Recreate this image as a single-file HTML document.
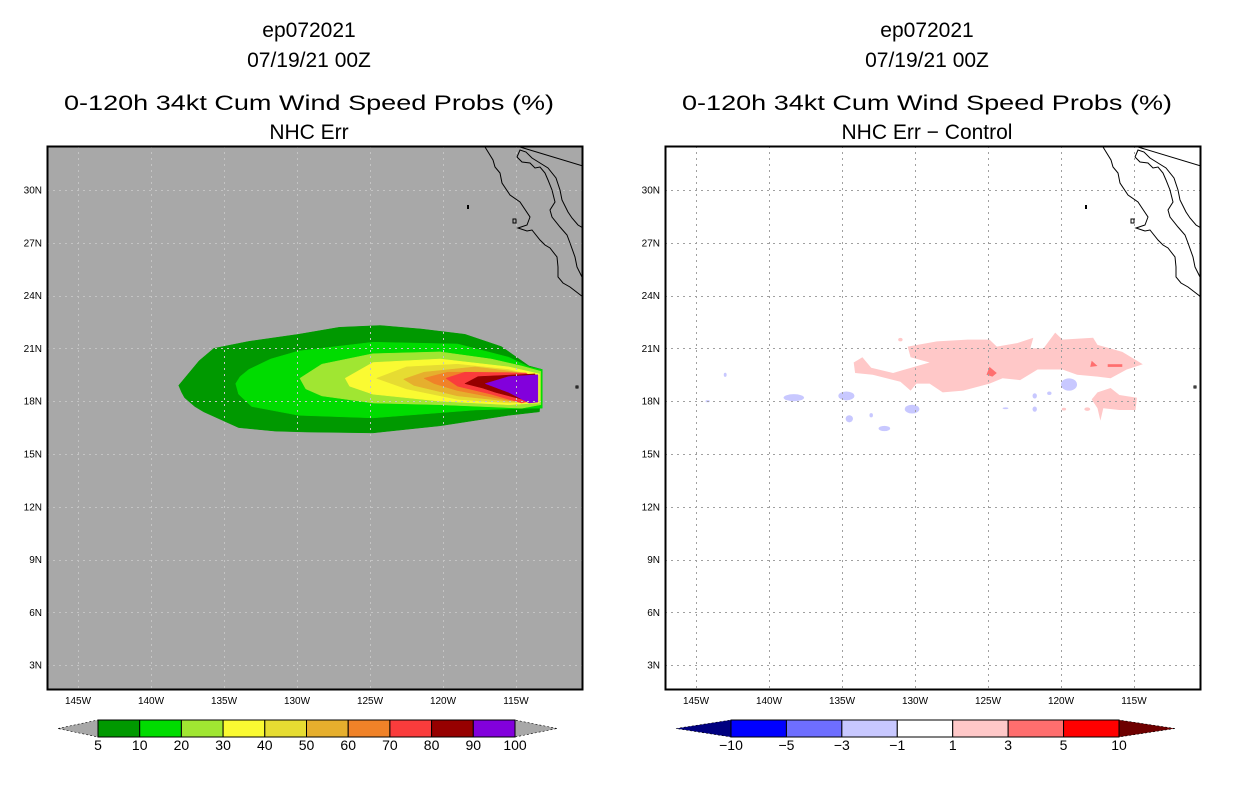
<!DOCTYPE html>
<html><head><meta charset="utf-8"><style>
html,body{margin:0;padding:0;background:#fff;}
svg{display:block;font-family:"Liberation Sans",sans-serif;}
</style></head><body>
<svg id="s" width="1236" height="800" viewBox="0 0 1236 800" xmlns="http://www.w3.org/2000/svg">
<defs>
<clipPath id="cl"><rect x="47" y="146" width="536" height="544"/></clipPath>
<clipPath id="cr"><rect x="665" y="146" width="536" height="544"/></clipPath>
</defs>
<g font-size="21" text-anchor="middle" fill="#000">
<text x="309" y="37">ep072021</text>
<text x="309" y="67">07/19/21 00Z</text>
<text x="309" y="110" textLength="490" lengthAdjust="spacingAndGlyphs">0-120h 34kt Cum Wind Speed Probs (%)</text>
<text x="309" y="139">NHC Err</text>
</g>
<g font-size="21" text-anchor="middle" fill="#000">
<text x="927" y="37">ep072021</text>
<text x="927" y="67">07/19/21 00Z</text>
<text x="927" y="110" textLength="490" lengthAdjust="spacingAndGlyphs">0-120h 34kt Cum Wind Speed Probs (%)</text>
<text x="927" y="139">NHC Err − Control</text>
</g>
<g id="left"></g>
<g id="right"></g>
<g id="cbl"></g>
<g id="cbr"></g>
</svg>
<script>
// ---- data ----
const latTicks = [30,27,24,21,18,15,12,9,6,3];
const lonTicks = [-145,-140,-135,-130,-125,-120,-115];
const probLevels = [5,10,20,30,40,50,60,70,80,90,100];
const probColors = ["#009900","#00dc00","#a0e632","#fafa32","#e6dc32","#e6af2d","#f08228","#fa3c3c","#960000","#8200dc"];
const diffLevels = ["−10","−5","−3","−1","1","3","5","10"];
const diffColors = ["#0000ff","#6e6eff","#c8c8ff","#ffffff","#ffc8c8","#ff6e6e","#ff0000"];
const c5 = [[-138.1,18.9],[-137.9,18.5],[-137.7,18.2],[-137.0,17.7],[-136.4,17.4],[-134.0,16.5],[-131.5,16.3],[-129.4,16.25],[-124.8,16.2],[-120.2,16.6],[-115.5,17.2],[-113.4,17.4],[-113.2,19.8],[-114.1,20.0],[-116.0,21.1],[-118.5,21.8],[-121.5,22.1],[-124.3,22.3],[-127.1,22.2],[-129.9,21.8],[-133.3,21.4],[-135.7,21.0],[-136.7,20.3],[-137.5,19.5]];
const c10 = [[-134.2,19.0],[-133.9,19.4],[-133.3,19.8],[-131.8,20.4],[-129.9,20.85],[-124.8,21.35],[-119.0,21.25],[-115.5,20.5],[-114.1,19.95],[-113.2,19.8],[-113.2,17.6],[-114.1,17.6],[-117.8,17.5],[-124.8,17.05],[-129.9,17.2],[-133.1,17.7],[-134.0,18.4]];
const c20 = [[-129.8,19.3],[-128.3,20.1],[-124.8,20.7],[-120.2,20.8],[-116.7,20.4],[-114.6,20.0],[-113.3,19.7],[-113.3,17.8],[-114.6,17.6],[-120.2,17.8],[-124.8,17.9],[-128.3,18.3],[-129.4,18.7]];
const c30 = [[-126.7,19.3],[-124.8,20.2],[-120.2,20.4],[-115.5,19.95],[-113.4,19.55],[-113.4,17.9],[-115.5,17.8],[-120.2,18.0],[-124.8,18.4],[-126.4,18.85]];
const c40 = [[-124.55,19.3],[-122.5,19.95],[-119.0,20.1],[-115.5,19.8],[-113.5,19.4],[-113.5,17.95],[-115.5,17.9],[-119.0,18.1],[-122.5,18.7]];
const c50 = [[-122.7,19.25],[-121.3,19.65],[-117.8,19.95],[-115.3,19.7],[-113.6,19.4],[-113.6,18.0],[-115.5,18.0],[-119.0,18.3],[-122.0,18.9]];
const c60 = [[-121.3,19.3],[-119.7,19.65],[-115.5,19.65],[-113.7,19.3],[-113.7,18.05],[-115.5,18.05],[-119.0,18.6],[-120.6,19.0]];
const c70 = [[-119.8,19.3],[-118.5,19.65],[-114.3,19.6],[-113.7,19.2],[-113.7,18.1],[-114.6,17.9],[-116.7,18.4],[-119.0,18.85]];
const c80 = [[-118.5,19.0],[-117.6,19.4],[-113.7,19.55],[-113.7,18.2],[-114.1,18.0],[-116.4,18.5],[-117.3,18.75]];
const c90 = [[-117.1,19.0],[-115.5,19.4],[-113.5,19.5],[-113.5,17.95],[-114.1,17.9],[-115.5,18.5]];
const probContours = [c5,c10,c20,c30,c40,c50,c60,c70,c80,c90];
const pinkMain = [[-130.5,21.1],[-128.5,21.4],[-126.4,21.5],[-124.9,21.5],[-124.4,21.1],[-123.0,21.3],[-121.9,21.6],[-122.1,21.0],[-121.2,21.0],[-120.4,21.9],[-119.9,21.5],[-117.8,21.6],[-117.5,21.2],[-115.8,20.8],[-114.4,20.1],[-115.5,19.8],[-116.6,19.3],[-117.5,19.4],[-118.9,19.5],[-119.9,19.8],[-121.6,19.8],[-122.8,19.2],[-124.0,19.3],[-124.9,19.0],[-126.7,18.6],[-128.1,18.5],[-129.0,19.0],[-129.9,19.0],[-130.3,18.6],[-131.0,19.1],[-132.9,19.5],[-134.1,19.6],[-134.2,20.2],[-133.6,20.5],[-133.0,19.9],[-131.5,19.6],[-130.9,19.75],[-129.0,20.2],[-130.3,20.5]];
const pinkSouth = [[-117.5,18.5],[-116.6,18.75],[-116.0,18.35],[-114.8,18.2],[-114.9,17.5],[-116.0,17.5],[-117.1,17.6],[-117.3,16.9],[-117.5,17.6],[-117.9,18.1]];
const red1 = [[-125.1,19.5],[-124.9,19.95],[-124.4,19.6],[-124.7,19.4]];
const red2 = [[-118.0,19.95],[-117.9,20.3],[-117.5,20.0]];
const red3 = [[-116.8,19.95],[-115.8,19.95],[-115.8,20.1],[-116.8,20.1]];
// blobs: [lon, lat, radius lon, radius lat]
const blueBlobs = [[-134.7,18.3,0.55,0.25],[-119.45,18.95,0.55,0.35],[-130.2,17.55,0.5,0.25],[-132.1,16.45,0.4,0.15],[-134.5,17.0,0.25,0.2],[-133.0,17.2,0.12,0.12],[-121.8,18.3,0.15,0.15],[-120.8,18.45,0.15,0.1],[-121.8,17.55,0.15,0.15],[-138.3,18.2,0.7,0.2],[-143.0,19.5,0.1,0.12],[-144.2,18.0,0.15,0.06],[-123.8,17.6,0.2,0.05]];
const pinkBlobs = [[-131.0,21.5,0.15,0.1],[-119.8,17.55,0.15,0.08],[-118.2,17.55,0.2,0.1]];
const coast = [[485,147],[493,160],[495,167],[500,173],[502,183],[510,195],[520,202],[530,217],[527,225],[518,228],[527,231],[532,230],[540,240],[545,245],[550,248],[557,257],[558,267],[558,277],[563,283],[570,287],[583,297]];
const gulfW = [[517,157],[522,162],[530,163],[535,168],[540,167],[545,173],[548,180],[552,190],[555,202],[550,210],[552,217],[560,227],[567,235],[570,243],[575,257],[577,267],[582,277],[583,280]];
const mainland = [[517,157],[520,150],[526,152],[532,158],[540,163],[548,168],[556,178],[560,190],[562,200],[568,212],[572,218],[578,225],[583,228]];
const border = [[520,147],[583,166]];
// ---- helpers ----
const NS="http://www.w3.org/2000/svg";
function mk(tag,attrs,parent){const e=document.createElementNS(NS,tag);for(const k in attrs)e.setAttribute(k,attrs[k]);parent.appendChild(e);return e;}
function proj(x0){return {X:lon=>x0+(lon+145)*14.6,Y:lat=>190+(30-lat)*17.6};}
function pts(p,poly){return poly.map(q=>p.X(q[0]).toFixed(1)+","+p.Y(q[1]).toFixed(1)).join(" ");}
function panel(gid,px,bg,clip,side){
  const g=document.getElementById(gid);const p=proj(px+31);
  const bgR=mk("rect",{x:px,y:146,width:536,height:544,fill:bg},g);
  
  
  const inner=mk("g",{"clip-path":"url(#"+clip+")"},g);
  
  
  return {g,inner,p,px};
}
function gridAndFrame(P,gridCol,side){
  const {g,inner,p,px}=P;
  const gg=mk("g",{stroke:gridCol,"stroke-width":1,"stroke-dasharray":"2,4",fill:"none"},inner);
  
  
  lonTicks.forEach(l=>{const x=Math.round(p.X(l))+0.5;mk("line",{x1:x,y1:146,x2:x,y2:690},gg);});
  latTicks.forEach(l=>{const y=Math.round(p.Y(l))+0.5;mk("line",{x1:px,y1:y,x2:px+536,y2:y},gg);});
  const cg=mk("g",{stroke:"#000","stroke-width":1,fill:"none"},inner);
  
  
  const off=px-47;
  [coast,gulfW,mainland,border].forEach(line=>{mk("polyline",{points:line.map(q=>(q[0]+off)+","+q[1]).join(" ")},cg);});
  mk("rect",{x:467+off,y:205,width:2,height:4,fill:"#000",stroke:"none"},cg);
  mk("rect",{x:513+off,y:219,width:3,height:4,fill:"none"},cg);
  mk("rect",{x:576+off,y:386,width:2,height:2,fill:"none"},cg);
  const fr=mk("rect",{x:px+0.5,y:146.5,width:535,height:543,fill:"none",stroke:"#000","stroke-width":2},g);
  
  
  const tg=mk("g",{"font-size":10,fill:"#000"},g);
  
  
  latTicks.forEach(l=>{const t=mk("text",{x:px-5,y:p.Y(l)+3.5,"text-anchor":"end"},tg);t.textContent=l+"N";
    
    });
  lonTicks.forEach(l=>{const t=mk("text",{x:p.X(l),y:704,"text-anchor":"middle"},tg);t.textContent=(-l)+"W";
    
    });
}
const L=panel("left",47,"#a8a8a8","cl","left");
probContours.forEach((c,i)=>{const e=mk("polygon",{points:pts(L.p,c),fill:probColors[i],stroke:probColors[i],"stroke-width":0.5,"stroke-linejoin":"round"},L.inner);
  
  });
gridAndFrame(L,"#c4c4c4","left");
const R=panel("right",665,"#ffffff","cr","right");
[pinkMain,pinkSouth].forEach(c=>{const e=mk("polygon",{points:pts(R.p,c),fill:diffColors[4]},R.inner);
  
  });
pinkBlobs.forEach(b=>{const e=mk("ellipse",{cx:R.p.X(b[0]),cy:R.p.Y(b[1]),rx:b[2]*14.6,ry:b[3]*17.6,fill:diffColors[4]},R.inner);
  
  });
[red1,red2,red3].forEach(c=>{const e=mk("polygon",{points:pts(R.p,c),fill:diffColors[5]},R.inner);
  
  });
blueBlobs.forEach(b=>{const e=mk("ellipse",{cx:R.p.X(b[0]),cy:R.p.Y(b[1]),rx:b[2]*14.6,ry:b[3]*17.6,fill:diffColors[2]},R.inner);
  
  });
gridAndFrame(R,"#a0a0a0","right");
function colorbar(gid,x0,x1,xl,xr,colors,labels,triL,triR,side){
  const g=document.getElementById(gid);const n=colors.length;const w=(x1-x0)/n;const y0=720,y1=737,ym=728.5;
  const a=mk("polygon",{points:`${xl},${ym} ${x0},${y0} ${x0},${y1}`,fill:triL,stroke:"#000","stroke-width":0.6,"stroke-dasharray":"2,2"},g);
  
  
  const b=mk("polygon",{points:`${xr},${ym} ${x1},${y0} ${x1},${y1}`,fill:triR,stroke:"#000","stroke-width":0.6,"stroke-dasharray":"2,2"},g);
  
  
  colors.forEach((c,i)=>{const r=mk("rect",{x:x0+i*w,y:y0,width:w,height:y1-y0,fill:c,stroke:"#000","stroke-width":1},g);
    
    });
  labels.forEach((l,i)=>{const t=mk("text",{x:x0+i*w,y:750,"font-size":14,"text-anchor":"middle"},g);t.textContent=l;
    
    });
}
colorbar("cbl",98,515,58,557,probColors,probLevels.map(String),"#a8a8a8","#a8a8a8","left");
colorbar("cbr",731,1119,676,1175,diffColors,diffLevels,"#000080","#6e0000","right");
</script>
</body></html>
